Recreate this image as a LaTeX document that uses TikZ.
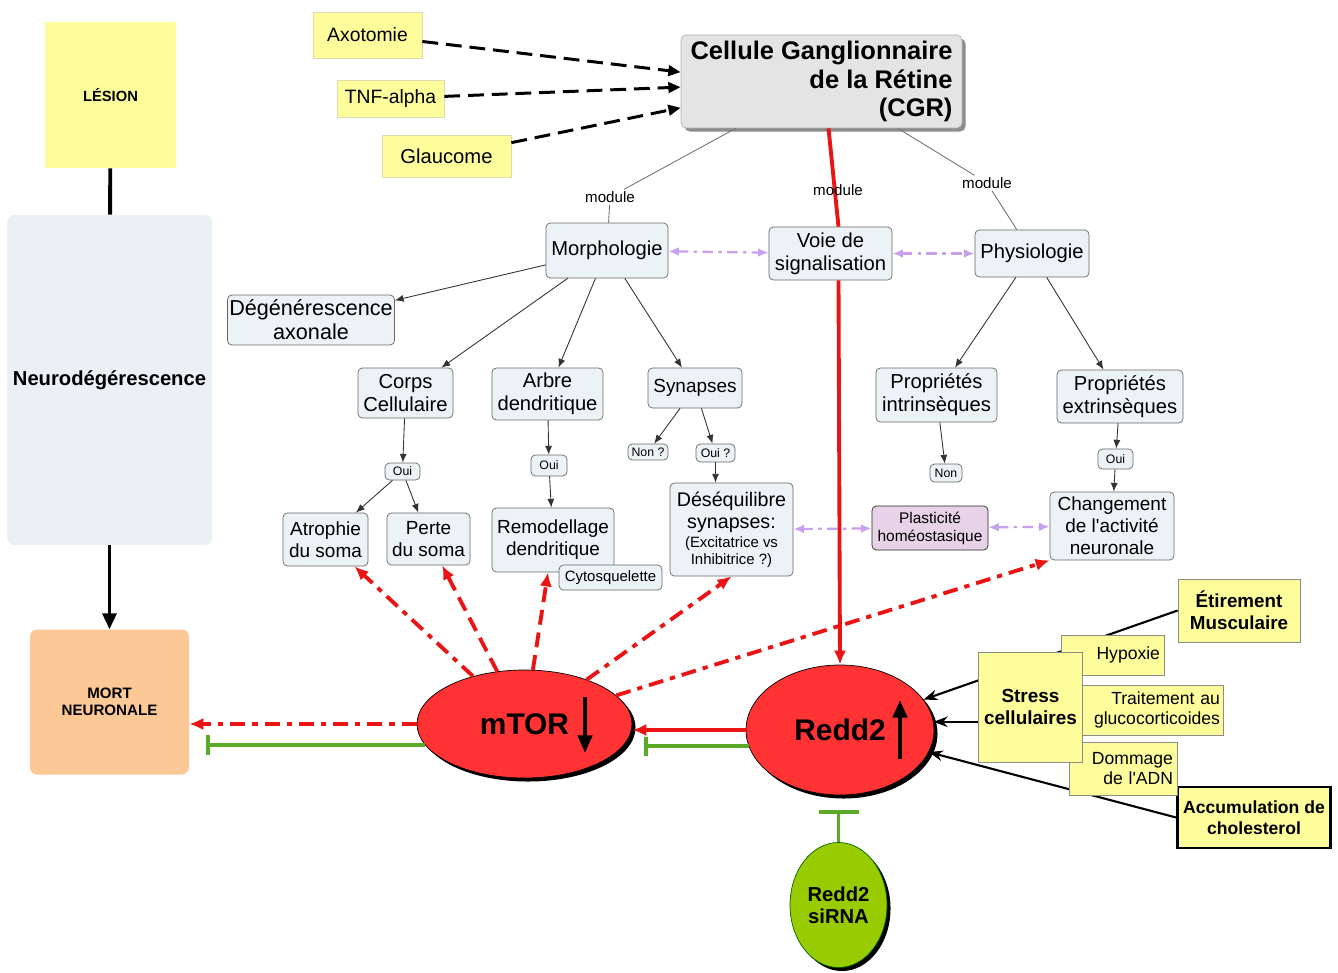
\documentclass[tikz,border=0pt]{standalone}
\usepackage{fontspec}
\setmainfont{Liberation Sans}
\usepackage{tikz}
\usetikzlibrary{calc}
\usetikzlibrary{shapes.geometric,arrows.meta}
\usetikzlibrary{shadows}

\definecolor{jaune}{RGB}{253,253,155}
\definecolor{jauneBord}{RGB}{220,220,175}
\definecolor{bleuPale}{RGB}{236,243,246}
\definecolor{bleuNeuro}{RGB}{233,241,244}
\definecolor{peche}{RGB}{251,200,150}
\definecolor{grisCGR}{RGB}{228,228,228}
\definecolor{rougeE}{RGB}{255,51,51}
\definecolor{rougeL}{RGB}{235,20,20}
\definecolor{vertL}{RGB}{90,170,40}
\definecolor{vertE}{RGB}{153,204,0}
\definecolor{lilas}{RGB}{200,160,240}
\definecolor{rose}{RGB}{232,210,232}

\tikzset{
  wh/.style 2 args={minimum width=#1*0.02cm, minimum height=#2*0.02cm},
  boite/.style={draw=black!60, fill=bleuPale, rounded corners=2.5pt, align=center, inner sep=1pt, font=\fontsize{11.5}{13}\selectfont},
  petite/.style={boite, font=\fontsize{7}{8}\selectfont},
  boitejaune/.style={draw=jauneBord, fill=jaune, align=center, inner sep=1pt},
  gras/.style={font=\bfseries\fontsize{10.7}{12.5}\selectfont},
  module/.style={font=\fontsize{8.6}{10}\selectfont, inner sep=1pt},
  fin/.style={black!80, line width=0.5pt, -{Latex[length=5pt,width=4pt]}},
  gris/.style={black!55, line width=0.5pt},
  noir/.style={black, line width=1.7pt, dash pattern=on 9pt off 4.5pt, -{Triangle[length=7pt,width=6pt]}},
  noirfl/.style={black, line width=1.2pt, -{Stealth[length=8pt,width=6pt]}},
  lilasfl/.style={lilas, line width=1.3pt, dash pattern=on 6pt off 3pt on 2pt off 3pt, {Latex[length=6pt,width=5pt]}-{Latex[length=6pt,width=5pt]}},
  rouge/.style={rougeL, line width=2.2pt, -{Latex[length=8pt,width=7pt]}},
  rtiret/.style={rouge, dash pattern=on 8.5pt off 4.5pt},
  rpoint/.style={rouge, dash pattern=on 8.5pt off 4pt on 3pt off 4pt},
  inhib/.style={vertL, line width=2.2pt, -{Bar[width=#1]}},
  ovale/.style={ellipse, draw=black, fill=rougeE, inner sep=0pt, drop shadow={shadow xshift=2pt, shadow yshift=-2pt, fill=black, opacity=1}, font=\bfseries\fontsize{17}{20}\selectfont},
  fleche/.style={black, line width=2.3pt, -{Triangle[length=10pt,width=8pt]}}
}

\begin{document}
\begin{tikzpicture}[x=0.02cm, y=-0.02cm]
        %CADRE
        \useasboundingbox (0,0) rectangle (1338,973);
        %COLONNE GAUCHE
        \node[fill=jaune, wh={131}{146}, font=\bfseries\fontsize{8.4}{10}\selectfont] (lesion) at (110.5,95) {LÉSION};
        \node[fill=bleuNeuro, rounded corners=4pt, wh={203}{330}, font=\bfseries\fontsize{11.5}{13}\selectfont] (neuro) at (109.5,380) {Neurodégérescence};
        \node[fill=peche, rounded corners=4pt, wh={159}{145}, align=center, font=\bfseries\fontsize{8.6}{10}\selectfont] (mort) at (109.5,702) {MORT\\NEURONALE};
        \draw[line width=2.2pt] (lesion) -- (neuro);
        \draw[line width=1.8pt, -{Triangle[length=9pt,width=8pt]}] (neuro) -- (mort);
        %DECLENCHEURS
        \node[boitejaune, wh={109}{46}, font=\fontsize{11}{13}\selectfont] (axo) at (367.5,35) {Axotomie};
        \node[boitejaune, wh={107}{37}, font=\fontsize{11}{13}\selectfont] (tnf) at (390.5,98.5) {TNF-alpha};
        \node[boitejaune, wh={129}{42}, font=\fontsize{11.5}{13}\selectfont] (glau) at (446.5,156) {Glaucome};
        %CGR
        \node[fill=grisCGR, draw=black!30, rounded corners=3pt, wh={281}{93}, align=right, inner sep=2pt, font=\bfseries\fontsize{14.5}{16.4}\selectfont, drop shadow={shadow xshift=2pt, shadow yshift=-2pt, fill=black!45, opacity=1}] (cgr) at (821.5,81.5) {Cellule Ganglionnaire\\de la Rétine\\(CGR)};
        \draw[noir] (axo) -- ($(cgr.north west)!0.4!(cgr.south west)$);
        \draw[noir] (tnf) -- ($(cgr.north west)!0.56!(cgr.south west)$);
        \draw[noir] (glau) -- ($(cgr.north west)!0.78!(cgr.south west)$);
        %MODULES
        \node[boite, wh={122}{55}] (morph) at (607,250.5) {Morphologie};
        \node[boite, wh={123}{53}] (voie) at (830.5,253.5) {Voie de\\signalisation};
        \node[boite, wh={114}{47}] (phys) at (1032,253.5) {Physiologie};
        \node[module] (modA) at (610,197) {module};
        \node[module] (modC) at (987,183) {module};
        \draw[gris] (cgr) -- (modA) -- (morph);
        \draw[gris] (cgr) -- (modC) -- (phys);
        \draw[rougeL, line width=2.2pt] ($(cgr.south)+(7,0)$) -- ($(voie.north)+(8,0)$);
        \node[module] (modB) at (838,190) {module};
        \draw[lilasfl] (morph) -- (voie);
        \draw[lilasfl] (voie) -- (phys);
        %ARBRE
        \node[boite, wh={164}{50}, font=\fontsize{12.3}{13.5}\selectfont] (degen) at (311,320) {Dégénérescence\\axonale};
        \node[boite, wh={95}{50}] (corps) at (405.5,393) {Corps\\Cellulaire};
        \node[boite, wh={111}{52}] (arbre) at (547.5,394) {Arbre\\dendritique};
        \node[boite, wh={94}{40}, font=\fontsize{10.8}{12.5}\selectfont] (syn) at (695,388) {Synapses};
        \node[boite, wh={121}{54}] (intr) at (936.5,395) {Propriétés\\intrinsèques};
        \node[boite, wh={126}{53}] (extr) at (1120,396.5) {Propriétés\\extrinsèques};
        \node[petite, wh={35}{17}] (oui1) at (402.5,471.5) {Oui};
        \node[petite, wh={36}{21}] (oui2) at (549,465.5) {Oui};
        \node[petite, wh={40}{16}] (non1) at (648,452) {Non ?};
        \node[petite, wh={39}{18}] (oui3) at (715.5,453) {Oui ?};
        \node[petite, wh={32}{18}] (non2) at (946,473) {Non};
        \node[petite, wh={35}{20}] (oui4) at (1115.5,459) {Oui};
        \node[boite, wh={85}{53}, font=\fontsize{10.8}{12.5}\selectfont] (atro) at (325.5,539.5) {Atrophie\\du soma};
        \node[boite, wh={83}{52}, font=\fontsize{10.8}{12.5}\selectfont] (perte) at (428.5,539) {Perte\\du soma};
        \node[boite, wh={122}{64}, font=\fontsize{10.8}{12.5}\selectfont] (remod) at (553,540) {Remodellage\\dendritique};
        \node[boite, wh={103}{25}, font=\fontsize{8.5}{10}\selectfont] (cyto) at (610.5,577.5) {Cytosquelette};
        \node[boite, wh={123}{93}, font=\fontsize{11.2}{12.5}\selectfont] (deseq) at (731.5,529.5) {Déséquilibre\\synapses:\\[-1.5pt]\fontsize{8.5}{10}\selectfont(Excitatrice vs\\[-3pt]\fontsize{8.5}{10}\selectfont Inhibitrice ?)};
        \node[boite, fill=rose, draw=black!85, wh={116}{44}, font=\fontsize{8.8}{10.2}\selectfont] (plast) at (930,528) {Plasticité\\homéostasique};
        \node[boite, wh={124}{68}, font=\fontsize{10.8}{12.5}\selectfont] (chg) at (1112,526) {Changement\\de l\textquotesingle activité\\neuronale};
        \draw[fin] (morph) -- (degen);
        \draw[fin] (morph) -- (corps);
        \draw[fin] (morph) -- (arbre);
        \draw[fin] (morph) -- (syn);
        \draw[fin] (phys) -- (intr);
        \draw[fin] (phys) -- (extr);
        \draw[fin] (corps) -- (oui1);
        \draw[fin] (oui1) -- (atro);
        \draw[fin] (oui1) -- (perte);
        \draw[fin] (arbre) -- (oui2);
        \draw[fin] (oui2) -- (remod);
        \draw[fin] (syn) -- (non1);
        \draw[fin] (syn) -- (oui3);
        \draw[fin] (oui3) -- (oui3 |- deseq.north);
        \draw[fin] (intr) -- (non2);
        \draw[fin] (extr) -- (oui4);
        \draw[fin] (oui4) -- (chg);
        \draw[lilasfl] (plast) -- (deseq);
        \draw[lilasfl] (plast) -- (chg);
        %OVALES
        \node[ovale, wh={215}{108}] (mtor) at (524.5,724) {mTOR};
        \node[ovale, wh={188}{130}] (redd2) at (840,730) {Redd2};
        \node[ovale, fill=vertE, draw=black!60!green, wh={97}{125}, align=center, font=\bfseries\fontsize{11.5}{12.5}\selectfont] (sirna) at (838.5,905) {Redd2\\siRNA};
        \coordinate (mtorH) at (585,697);
        \coordinate (mtorB) at (585,753);
        \draw[fleche] (mtorH) -- (mtorB);
        \coordinate (reddB) at (900,759);
        \coordinate (reddH) at (900,700);
        \draw[fleche] (reddB) -- (reddH);
        %FLECHES ROUGES
        \draw[rouge] ($(voie.south)+(8,0)$) -- (redd2.north);
        \draw[rouge] (redd2.west) -- (redd2.west -| mtor.east);
        \draw[inhib=0.38cm, shorten >=0.24cm] (redd2.190) -- (redd2.190 -| mtor.east);
        \draw[rpoint] (mtor.west) -- (mtor.west -| mort.east);
        \draw[inhib=0.4cm, shorten >=0.34cm] (mtor.192) -- (mtor.192 -| mort.east);
        \draw[inhib=0.8cm, shorten >=0.3cm] (sirna.north) -- (sirna.north |- redd2.south);
        \draw[rpoint] (mtor) -- (atro);
        \draw[rtiret] (mtor) -- (perte);
        \draw[rtiret] (mtor) -- (remod);
        \draw[rpoint] (mtor) -- (deseq.south);
        \draw[rpoint] (mtor) -- (chg.south west);
        %STRESS
        \node[draw=black!45, fill=jaune, wh={122}{63}, align=center, gras] (etir) at (1239,610.5) {Étirement\\Musculaire};
        \node[draw=black, line width=1.4pt, fill=jaune, wh={152}{61}, align=center, font=\bfseries\fontsize{10}{12}\selectfont] (accum) at (1254,817.5) {Accumulation de\\cholesterol};
        \draw[noirfl] (etir.west) -- (redd2.20);
        \draw[noirfl] (accum.west) -- (redd2.346);
        \node[draw=black!45, fill=jaune, minimum height=40*0.02cm, text width=1.9cm, inner xsep=0.08cm, align=right, font=\fontsize{10}{11.3}\selectfont] (hypox) at (1112.5,655) {Hypoxie};
        \node[draw=black!45, fill=jaune, minimum height=50*0.02cm, text width=2.74cm, inner xsep=0.06cm, align=right, font=\fontsize{10}{11.3}\selectfont] (trait) at (1151.5,710) {Traitement au\\glucocorticoides};
        \node[draw=black!45, fill=jaune, minimum height=53*0.02cm, text width=2cm, inner xsep=0.08cm, align=right, font=\fontsize{10}{11.3}\selectfont] (domm) at (1123,768.5) {Dommage\\de l\textquotesingle ADN};
        \node[draw=black!45, fill=jaune, wh={99}{110}, align=center, font=\bfseries\fontsize{10.8}{12.5}\selectfont] (stress) at (1030.5,707) {Stress\\cellulaires};
        \draw[noirfl] (stress.west |- redd2.5) -- (redd2.5);
\end{tikzpicture}
\end{document}
